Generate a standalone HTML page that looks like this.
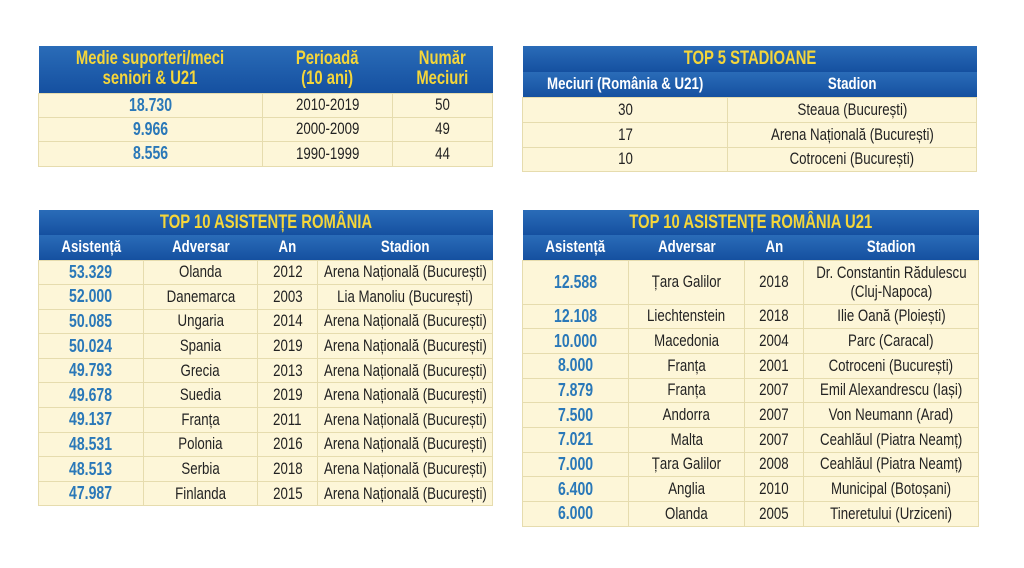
<!DOCTYPE html>
<html><head><meta charset="utf-8"><style>
body{margin:0;width:1024px;height:568px;background:#fff;position:relative;overflow:hidden;font-family:"Liberation Sans",sans-serif;}
table{position:absolute;border-collapse:collapse;table-layout:fixed;}
td,th{padding:0;text-align:center;white-space:nowrap;}
td{background:#fdf6d8;border:1px solid #e6dcae;color:#222;font-size:17px;}
td.n{color:#2a78b8;font-weight:bold;font-size:18px;}
th{background:linear-gradient(#2a6cb8,#1550a0);color:#fff;font-weight:bold;font-size:17px;border:none;}
th.t{color:#f5d63a;font-size:19px;}
th.y{color:#f5d63a;font-size:19px;line-height:20px;}
span{display:inline-block;transform:scaleX(.78);margin:0 -40px;}
</style></head><body>

<table style="left:38px;top:46px;width:454px;">
<colgroup><col style="width:224px"><col style="width:130px"><col style="width:100px"></colgroup>
<tr style="height:47px"><th class="y"><span>Medie suporteri/meci<br>seniori &amp; U21</span></th><th class="y"><span>Perioadă<br>(10 ani)</span></th><th class="y"><span>Număr<br>Meciuri</span></th></tr>
<tr style="height:24px"><td class="n"><span>18.730</span></td><td><span>2010-2019</span></td><td><span>50</span></td></tr>
<tr style="height:24px"><td class="n"><span>9.966</span></td><td><span>2000-2009</span></td><td><span>49</span></td></tr>
<tr style="height:25px"><td class="n"><span>8.556</span></td><td><span>1990-1999</span></td><td><span>44</span></td></tr>
</table>

<table style="left:522px;top:46px;width:454px;">
<colgroup><col style="width:205px"><col style="width:249px"></colgroup>
<tr style="height:26px"><th class="t" colspan="2"><span>TOP 5 STADIOANE</span></th></tr>
<tr style="height:25px"><th><span>Meciuri (România &amp; U21)</span></th><th><span>Stadion</span></th></tr>
<tr style="height:25px"><td><span>30</span></td><td><span>Steaua (București)</span></td></tr>
<tr style="height:25px"><td><span>17</span></td><td><span>Arena Națională (București)</span></td></tr>
<tr style="height:24px"><td><span>10</span></td><td><span>Cotroceni (București)</span></td></tr>
</table>

<table style="left:38px;top:210px;width:454px;">
<colgroup><col style="width:105px"><col style="width:114px"><col style="width:60px"><col style="width:175px"></colgroup>
<tr style="height:25px"><th class="t" colspan="4"><span>TOP 10 ASISTENȚE ROMÂNIA</span></th></tr>
<tr style="height:25px"><th><span>Asistență</span></th><th><span>Adversar</span></th><th><span>An</span></th><th><span>Stadion</span></th></tr>
<tr style="height:24.6px"><td class="n"><span>53.329</span></td><td><span>Olanda</span></td><td><span>2012</span></td><td><span>Arena Națională (București)</span></td></tr>
<tr style="height:24.6px"><td class="n"><span>52.000</span></td><td><span>Danemarca</span></td><td><span>2003</span></td><td><span>Lia Manoliu (București)</span></td></tr>
<tr style="height:24.6px"><td class="n"><span>50.085</span></td><td><span>Ungaria</span></td><td><span>2014</span></td><td><span>Arena Națională (București)</span></td></tr>
<tr style="height:24.6px"><td class="n"><span>50.024</span></td><td><span>Spania</span></td><td><span>2019</span></td><td><span>Arena Națională (București)</span></td></tr>
<tr style="height:24.6px"><td class="n"><span>49.793</span></td><td><span>Grecia</span></td><td><span>2013</span></td><td><span>Arena Națională (București)</span></td></tr>
<tr style="height:24.6px"><td class="n"><span>49.678</span></td><td><span>Suedia</span></td><td><span>2019</span></td><td><span>Arena Națională (București)</span></td></tr>
<tr style="height:24.6px"><td class="n"><span>49.137</span></td><td><span>Franța</span></td><td><span>2011</span></td><td><span>Arena Națională (București)</span></td></tr>
<tr style="height:24.6px"><td class="n"><span>48.531</span></td><td><span>Polonia</span></td><td><span>2016</span></td><td><span>Arena Națională (București)</span></td></tr>
<tr style="height:24.6px"><td class="n"><span>48.513</span></td><td><span>Serbia</span></td><td><span>2018</span></td><td><span>Arena Națională (București)</span></td></tr>
<tr style="height:24.6px"><td class="n"><span>47.987</span></td><td><span>Finlanda</span></td><td><span>2015</span></td><td><span>Arena Națională (București)</span></td></tr>
</table>

<table style="left:522px;top:210px;width:456px;">
<colgroup><col style="width:106px"><col style="width:116px"><col style="width:59px"><col style="width:175px"></colgroup>
<tr style="height:25px"><th class="t" colspan="4"><span>TOP 10 ASISTENȚE ROMÂNIA U21</span></th></tr>
<tr style="height:25px"><th><span>Asistență</span></th><th><span>Adversar</span></th><th><span>An</span></th><th><span>Stadion</span></th></tr>
<tr style="height:44px"><td class="n"><span>12.588</span></td><td><span>Țara Galilor</span></td><td><span>2018</span></td><td style="line-height:19px"><span>Dr. Constantin Rădulescu<br>(Cluj-Napoca)</span></td></tr>
<tr style="height:24.7px"><td class="n"><span>12.108</span></td><td><span>Liechtenstein</span></td><td><span>2018</span></td><td><span>Ilie Oană (Ploiești)</span></td></tr>
<tr style="height:24.7px"><td class="n"><span>10.000</span></td><td><span>Macedonia</span></td><td><span>2004</span></td><td><span>Parc (Caracal)</span></td></tr>
<tr style="height:24.7px"><td class="n"><span>8.000</span></td><td><span>Franța</span></td><td><span>2001</span></td><td><span>Cotroceni (București)</span></td></tr>
<tr style="height:24.7px"><td class="n"><span>7.879</span></td><td><span>Franța</span></td><td><span>2007</span></td><td><span>Emil Alexandrescu (Iași)</span></td></tr>
<tr style="height:24.7px"><td class="n"><span>7.500</span></td><td><span>Andorra</span></td><td><span>2007</span></td><td><span>Von Neumann (Arad)</span></td></tr>
<tr style="height:24.7px"><td class="n"><span>7.021</span></td><td><span>Malta</span></td><td><span>2007</span></td><td><span>Ceahlăul (Piatra Neamț)</span></td></tr>
<tr style="height:24.7px"><td class="n"><span>7.000</span></td><td><span>Țara Galilor</span></td><td><span>2008</span></td><td><span>Ceahlăul (Piatra Neamț)</span></td></tr>
<tr style="height:24.7px"><td class="n"><span>6.400</span></td><td><span>Anglia</span></td><td><span>2010</span></td><td><span>Municipal (Botoșani)</span></td></tr>
<tr style="height:24.7px"><td class="n"><span>6.000</span></td><td><span>Olanda</span></td><td><span>2005</span></td><td><span>Tineretului (Urziceni)</span></td></tr>
</table>

</body></html>
